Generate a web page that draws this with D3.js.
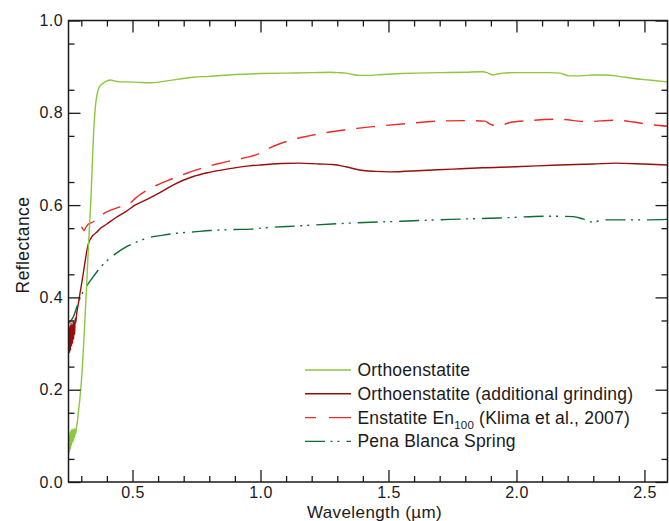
<html>
<head>
<meta charset="utf-8">
<script src="https://cdn.jsdelivr.net/npm/d3@7/dist/d3.min.js" charset="utf-8"></script>
<style>
  body { margin: 0; background: #fff; }
  svg { display: block; }
</style>
</head>
<body>
<svg></svg>
<script type='text/javascript'>
// reflectance spectra, values

// Orthoenstatite
var orthoWl = [0.250,0.252,0.254,0.256,0.258,0.260,0.262,0.264,0.266,0.268,0.270,0.272,0.274,0.276,0.278,0.281,0.285,0.288,0.293,0.298,
  0.303,0.308,0.313,0.318,0.322,0.327,0.333,0.338,0.343,0.348,0.353,0.358,0.365,0.372,0.380,0.388,0.400,0.415,0.430,0.450,
  0.477,0.520,0.568,0.620,0.680,0.736,0.800,0.900,1.000,1.100,1.200,1.270,1.300,1.334,1.360,1.386,1.420,1.477,1.550,1.607,
  1.700,1.800,1.867,1.885,1.906,1.925,1.945,2.000,2.070,2.127,2.170,2.205,2.250,2.300,2.348,2.400,2.450,2.517,2.590];
var orthoR = [0.058,0.100,0.065,0.108,0.072,0.112,0.080,0.115,0.086,0.112,0.090,0.116,0.097,0.114,0.105,0.118,0.132,0.149,0.172,0.203,
  0.238,0.286,0.340,0.394,0.440,0.500,0.565,0.618,0.690,0.756,0.800,0.828,0.848,0.857,0.862,0.865,0.869,0.871,0.869,0.867,
  0.867,0.866,0.865,0.868,0.873,0.877,0.879,0.883,0.885,0.886,0.887,0.888,0.887,0.886,0.883,0.881,0.881,0.883,0.885,0.886,
  0.887,0.888,0.889,0.887,0.882,0.884,0.886,0.887,0.887,0.887,0.886,0.880,0.880,0.882,0.882,0.879,0.875,0.871,0.867];

// Orthoenstatite (additional grinding)
var grindWl = [0.250,0.252,0.254,0.256,0.258,0.260,0.262,0.264,0.266,0.268,0.270,0.272,0.274,0.276,0.278,0.282,0.288,0.295,0.302,0.310,
  0.316,0.321,0.327,0.334,0.341,0.347,0.360,0.373,0.400,0.430,0.477,0.510,0.555,0.607,0.660,0.737,0.800,0.868,0.958,1.000,
  1.080,1.152,1.230,1.282,1.334,1.386,1.450,1.503,1.633,1.750,1.867,1.997,2.166,2.300,2.387,2.500,2.590];
var grindR = [0.290,0.335,0.280,0.340,0.285,0.345,0.295,0.340,0.300,0.350,0.310,0.345,0.320,0.355,0.345,0.365,0.385,0.409,0.432,0.460,
  0.482,0.499,0.515,0.525,0.531,0.535,0.541,0.549,0.559,0.571,0.587,0.600,0.612,0.627,0.644,0.662,0.671,0.678,0.685,0.687,
  0.690,0.691,0.689,0.688,0.683,0.676,0.673,0.672,0.675,0.678,0.681,0.683,0.687,0.689,0.691,0.689,0.687];

// Enstatite En100 (Klima et al., 2007)
var klimaWl = [0.301,0.306,0.311,0.318,0.326,0.336,0.347,0.360,0.386,0.420,0.458,0.497,0.510,0.550,0.594,0.650,0.712,0.770,0.829,0.907,
  0.959,1.000,1.037,1.115,1.226,1.343,1.460,1.577,1.695,1.812,1.877,1.895,1.910,1.929,1.975,2.046,2.163,2.274,2.385,2.456,
  2.502,2.590];
var klimaR = [0.553,0.548,0.545,0.552,0.558,0.561,0.564,0.570,0.581,0.590,0.598,0.607,0.614,0.630,0.643,0.656,0.669,0.680,0.689,0.699,
  0.705,0.713,0.724,0.740,0.754,0.764,0.771,0.777,0.782,0.783,0.782,0.776,0.773,0.772,0.779,0.783,0.786,0.781,0.784,0.780,
  0.776,0.771];

// Pena Blanca Spring
var penaWl = [0.250,0.260,0.269,0.280,0.295,0.310,0.325,0.347,0.370,0.390,0.412,0.440,0.477,0.520,0.568,0.620,0.673,0.740,0.803,0.900,
  0.965,1.000,1.150,1.350,1.550,1.740,1.930,2.131,2.222,2.260,2.300,2.339,2.391,2.500,2.590];
var penaR = [0.344,0.350,0.358,0.375,0.398,0.415,0.428,0.445,0.462,0.474,0.485,0.497,0.510,0.521,0.530,0.535,0.539,0.542,0.545,0.547,
  0.548,0.550,0.555,0.561,0.565,0.569,0.572,0.576,0.575,0.570,0.563,0.568,0.568,0.568,0.569];

// ticks and labels
var xMajor = [0.5, 1.0, 1.5, 2.0, 2.5];
var yMajor = [0.0, 0.2, 0.4, 0.6, 0.8, 1.0];
var xTitle = "Wavelength (\u00b5m)";
var yTitle = "Reflectance";
var seriesNames = ["Orthoenstatite", "Orthoenstatite (additional grinding)", "Enstatite En", "Pena Blanca Spring"];

var W = 669, H = 521;
var margin = {left: 68.5, top: 20.5, right: 1.5, bottom: 39};
var width = W - margin.left - margin.right;
var height = H - margin.top - margin.bottom;
var font = "'Liberation Sans', Arial, Helvetica, sans-serif";

var svg = d3.select("svg").attr("width", W).attr("height", H);
var g = svg.append("g").attr("transform", "translate(" + margin.left + "," + margin.top + ")");

var x = d3.scaleLinear().domain([0.25, 2.59]).range([0, width]);
var y = d3.scaleLinear().domain([0, 1]).range([height, 0]);

var xMinor = d3.range(0.3, 2.59, 0.1).filter(function(d){ return Math.abs(d*2 - Math.round(d*2)) > 0.01; });
var yMinor = d3.range(0.05, 1.0, 0.1);

// clip so lines stay inside frame
g.append("clipPath").attr("id", "clip")
  .append("rect").attr("width", width).attr("height", height);

// curves
var series = [
  {wl: grindWl, r: grindR, color: "#9b0d0d", dash: null},
  {wl: penaWl,  r: penaR,  color: "#0b6b32", dash: "20,5.5,2,5,2,7"},
  {wl: klimaWl, r: klimaR, color: "#ec2b26", dash: "19,11"},
  {wl: orthoWl, r: orthoR, color: "#8dc63f", dash: null}
];

var line = d3.line()
  .x(function(d){ return x(d[0]); })
  .y(function(d){ return y(d[1]); })
  .curve(d3.curveMonotoneX);

g.append("g").attr("clip-path", "url(#clip)")
  .selectAll("path").data(series).enter()
  .append("path")
  .attr("d", function(s){ return line(d3.zip(s.wl, s.r)); })
  .attr("fill", "none")
  .attr("stroke", function(s){ return s.color; })
  .attr("stroke-width", 1.4)
  .attr("stroke-dasharray", function(s){ return s.dash; });

// axes, ticks point inward on all four sides
function styleAxis(sel) {
  sel.select(".domain").remove();
  sel.selectAll("line").attr("stroke", "#1a1a1a").attr("stroke-width", 1.3);
  sel.attr("font-size", 16).attr("font-family", font);
  sel.selectAll("text").attr("fill", "#1a1a1a").attr("letter-spacing", 0.4);
}

g.append("g").attr("transform", "translate(0," + height + ")")
  .call(d3.axisBottom(x).tickValues(xMajor).tickFormat(d3.format(".1f"))
    .tickSizeInner(-12).tickSizeOuter(0).tickPadding(5))
  .call(styleAxis);
g.append("g").attr("transform", "translate(0," + height + ")")
  .call(d3.axisBottom(x).tickValues(xMinor).tickFormat("").tickSizeInner(-6).tickSizeOuter(0))
  .call(styleAxis);
g.append("g")
  .call(d3.axisTop(x).tickValues(xMajor).tickFormat("").tickSizeInner(-12).tickSizeOuter(0))
  .call(styleAxis);
g.append("g")
  .call(d3.axisTop(x).tickValues(xMinor).tickFormat("").tickSizeInner(-6).tickSizeOuter(0))
  .call(styleAxis);

g.append("g")
  .call(d3.axisLeft(y).tickValues(yMajor).tickFormat(d3.format(".1f"))
    .tickSizeInner(-12).tickSizeOuter(0).tickPadding(5.5))
  .call(styleAxis);
g.append("g")
  .call(d3.axisLeft(y).tickValues(yMinor).tickFormat("").tickSizeInner(-6).tickSizeOuter(0))
  .call(styleAxis);
g.append("g").attr("transform", "translate(" + width + ",0)")
  .call(d3.axisRight(y).tickValues(yMajor).tickFormat("").tickSizeInner(-12).tickSizeOuter(0))
  .call(styleAxis);
g.append("g").attr("transform", "translate(" + width + ",0)")
  .call(d3.axisRight(y).tickValues(yMinor).tickFormat("").tickSizeInner(-6).tickSizeOuter(0))
  .call(styleAxis);

// frame
g.append("rect")
  .attr("width", width).attr("height", height)
  .attr("fill", "none").attr("stroke", "#1a1a1a").attr("stroke-width", 1.5);

// axis titles
svg.append("text")
  .attr("x", 374.5).attr("y", 518)
  .attr("text-anchor", "middle")
  .attr("font-family", font).attr("font-size", 17).attr("letter-spacing", 0.4).attr("fill", "#1a1a1a")
  .text(xTitle);
svg.append("text")
  .attr("transform", "translate(29,245) rotate(-90)")
  .attr("text-anchor", "middle")
  .attr("font-family", font).attr("font-size", 17.5).attr("letter-spacing", 0.4).attr("fill", "#1a1a1a")
  .text(yTitle);

// legend
var legendSeries = [series[3], series[0], series[2], series[1]];
var leg = svg.append("g").attr("transform", "translate(305,370)");
var rows = leg.selectAll("g").data(legendSeries).enter()
  .append("g").attr("transform", function(d, i){ return "translate(0," + (i*23.8) + ")"; });
rows.append("line")
  .attr("x1", 0).attr("x2", 46).attr("y1", 0).attr("y2", 0)
  .attr("stroke", function(d){ return d.color; })
  .attr("stroke-width", 1.4)
  .attr("stroke-dasharray", function(d, i){ return i == 2 ? "11,13,22" : d.dash; });
var lt = rows.append("text")
  .attr("x", 52.5).attr("y", 6)
  .attr("font-family", font).attr("font-size", 17.5).attr("letter-spacing", 0.2).attr("fill", "#1a1a1a")
  .text(function(d, i){ return seriesNames[i]; });
// subscript + rest for the Klima entry
var kl = d3.select(lt.nodes()[2]);
kl.append("tspan").attr("font-size", 11.5).attr("dy", 5).text("100");
kl.append("tspan").attr("dy", -5).text(" (Klima et al., 2007)");
</script>
</body>
</html>
